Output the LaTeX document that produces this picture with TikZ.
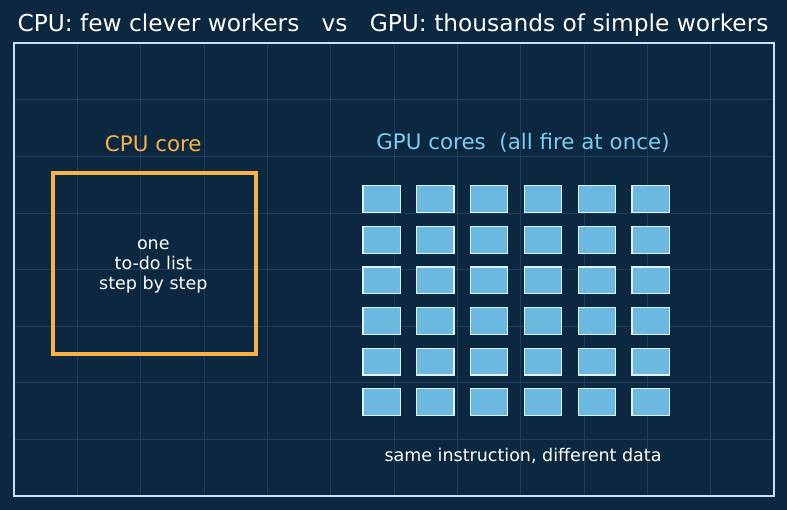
\documentclass[tikz,border=0pt]{standalone}
\usepackage{fontspec}
\setmainfont{DejaVu Sans}
\definecolor{bgblue}{HTML}{0C2740}
\definecolor{gridblue}{HTML}{1F3D5A}
\definecolor{framelight}{HTML}{C6E2F2}
\definecolor{cpuorange}{HTML}{F7B347}
\definecolor{gpulabel}{HTML}{7CCDF2}
\definecolor{corefill}{HTML}{6BB8E0}
\definecolor{coreedge}{HTML}{DDF2FF}

\begin{document}
\begin{tikzpicture}[
    x=1pt, y=-1pt,
    gridline/.style={gridblue, line width=0.7pt},
    outerframe/.style={framelight, line width=2pt},
    titletext/.style={white, font=\fontsize{23.3}{28}\selectfont, anchor=base},
    headtext/.style={font=\fontsize{21.4}{25}\selectfont, anchor=base},
    smalltext/.style={white, font=\fontsize{17.5}{20}\selectfont, align=center},
    cpubox/.style={draw=cpuorange, line width=4pt, minimum width=203pt, minimum height=181pt, inner sep=0pt},
    gpucore/.style={draw=coreedge, fill=corefill, line width=1.2pt, minimum width=37.2pt, minimum height=26.8pt, inner sep=0pt}
    ]

    \fill[bgblue] (0,0) rectangle (787,510);

    % faint grid behind everything
    \foreach \i in {1,...,11}
        \draw[gridline] ({14+63.33*\i},43) -- ({14+63.33*\i},496);
    \foreach \j in {1,...,7}
        \draw[gridline] (14,{43+56.625*\j}) -- (774,{43+56.625*\j});
    \draw[outerframe] (14,43) rectangle (774,496);

    \node[titletext] (title) at (393,32) {CPU: few clever workers\ \ \ vs\ \ \ GPU: thousands of simple workers};

    % cpu side
    \node[headtext, text=cpuorange] (cpulabel) at (153.3,151.5) {CPU core};
    \node[cpubox] (cpu) at (154.1,263.8) {};
    \node[smalltext] (cputext) at (153.3,266.5) {one\\to-do list\\step by step};

    % gpu side
    \node[headtext, text=gpulabel] (gpulabel) at (523,150) {GPU cores\ \ (all fire at once)};
    \foreach \r in {0,...,5}
        \foreach \c in {0,...,5}
            \node[gpucore] (core-\r-\c) at ({381.5+53.8*\c},{199.3+40.6*\r}) {};
    \node[smalltext, anchor=base] (gputext) at (523,461.5) {same instruction, different data};

\end{tikzpicture}
\end{document}
